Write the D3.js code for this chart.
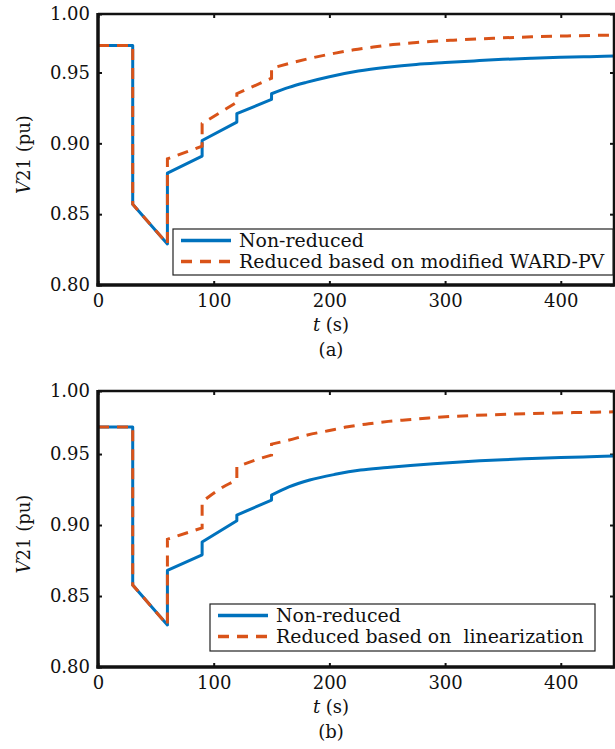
<!DOCTYPE html>
<html>
<head>
<meta charset="utf-8">
<script src="https://cdn.jsdelivr.net/npm/d3@7"></script>
<style>
  html, body { margin: 0; padding: 0; background: #fff; }
  svg { display: block; }
  svg text { font-family: "DejaVu Serif", "Liberation Serif", serif !important; fill: #111; white-space: pre; }
</style>
</head>
<body>
<svg id="chart" width="615" height="749"></svg>
<script>
// ---------- data ----------
const xTicks = [0, 100, 200, 300, 400];
const yTicks = [0.80, 0.85, 0.90, 0.95, 1.00];
const legendA = ["Non-reduced", "Reduced based on modified WARD-PV"];
const legendB = ["Non-reduced", "Reduced based on  linearization"];
const panelLabels = ["(a)", "(b)"];

// panel (a): time (s), voltage (pu)
const nonReducedA = [
  [0,0.969],[30,0.969],[30,0.857],[60,0.829],[60,0.879],[90,0.891],[90,0.902],
  [120,0.915],[120,0.921],[150,0.931],[150,0.935],[165,0.9395],[180,0.943],
  [200,0.947],[225,0.951],[250,0.9537],[275,0.9557],[300,0.957],[325,0.9582],
  [350,0.9593],[375,0.9601],[400,0.9607],[425,0.9612],[450,0.9617]
];
const reducedA = [
  [0,0.969],[30,0.969],[30,0.857],[60,0.829],[60,0.889],[90,0.898],[90,0.914],
  [120,0.929],[120,0.935],[150,0.946],[150,0.953],[168,0.957],[186,0.9605],
  [204,0.9635],[221,0.966],[238,0.968],[255,0.9697],[273,0.971],[290,0.972],
  [307,0.9728],[342,0.9742],[375,0.9752],[411,0.9759],[450,0.9765]
];
// panel (b)
const nonReducedB = [
  [0,0.969],[30,0.969],[30,0.8577],[60,0.8296],[60,0.868],[90,0.879],[90,0.888],
  [120,0.903],[120,0.907],[150,0.9176],[150,0.921],[165,0.9268],[183,0.9317],
  [205,0.9357],[227,0.9387],[250,0.9405],[270,0.942],[290,0.9432],[310,0.9442],
  [330,0.9452],[350,0.946],[375,0.9468],[400,0.9475],[425,0.9481],[450,0.9487]
];
const reducedB = [
  [0,0.969],[30,0.969],[30,0.8577],[60,0.8296],[60,0.890],[90,0.898],[90,0.9164],
  [110,0.9277],[120,0.9317],[120,0.941],[136,0.9458],[150,0.9493],[150,0.957],
  [164,0.9596],[181,0.9634],[199,0.9664],[216,0.9692],[234,0.9713],[251,0.973],
  [268,0.9742],[286,0.9754],[304,0.9764],[339,0.9776],[375,0.9785],[411,0.9792],
  [450,0.9798]
];

// ---------- drawing ----------
const BLUE = "#0072BD", ORANGE = "#D95319";
const svg = d3.select("#chart");
const FS = 18, LFS = 18.9;

// smooth within continuous pieces, sharp vertical steps where time repeats
function steppedPath(data, x, y) {
  const pieces = [];
  let cur = [data[0]];
  for (let i = 1; i < data.length; i++) {
    if (data[i][0] === data[i - 1][0]) { pieces.push(cur); cur = [data[i]]; }
    else cur.push(data[i]);
  }
  pieces.push(cur);
  const line = d3.line().curve(d3.curveMonotoneX).x(d => x(d[0])).y(d => y(d[1]));
  return pieces.map((p, i) => {
    const d = p.length > 1 ? line(p) : `M${x(p[0][0])},${y(p[0][1])}`;
    return i === 0 ? d : "L" + d.slice(1);
  }).join("");
}

function panel(cfg) {
  const x = d3.scaleLinear().domain([0, 446]).range([98, 614]);
  const y = d3.scaleLinear().domain(cfg.yDomain).range([cfg.bottom, cfg.top]).clamp(true);
  const g = svg.append("g");
  const clipId = "clip" + cfg.id;
  svg.append("defs").append("clipPath").attr("id", clipId)
    .append("rect").attr("x", x.range()[0]).attr("y", cfg.top)
    .attr("width", x.range()[1] - x.range()[0]).attr("height", cfg.bottom - cfg.top);

  const ax = g.append("g").attr("transform", `translate(0,${cfg.bottom})`)
    .call(d3.axisBottom(x).tickValues(xTicks).tickSize(-4).tickPadding(9).tickFormat(d3.format("d")));
  const ay = g.append("g").attr("transform", `translate(${x.range()[0]},0)`)
    .call(d3.axisLeft(y).tickValues(yTicks).tickSize(-4).tickPadding(8).tickFormat(d3.format(".2f")));
  const at = g.append("g").attr("transform", `translate(0,${cfg.top})`)
    .call(d3.axisTop(x).tickValues(xTicks).tickSize(-4).tickFormat(""));
  const ar = g.append("g").attr("transform", `translate(${x.range()[1]},0)`)
    .call(d3.axisRight(y).tickValues(yTicks).tickSize(-4).tickFormat(""));
  [ax, ay, at, ar].forEach(a => {
    a.attr("font-family", null);
    a.select(".domain").remove();
    a.selectAll(".tick line").attr("stroke", "#111").attr("stroke-width", 2);
    a.selectAll("text").attr("font-size", FS).attr("fill", "#111");
  });

  const lg = g.append("g").attr("clip-path", `url(#${clipId})`);
  lg.append("path").attr("d", steppedPath(cfg.blue, x, y)).attr("fill", "none")
    .attr("stroke", BLUE).attr("stroke-width", 3).attr("stroke-linejoin", "round");
  lg.append("path").attr("d", steppedPath(cfg.red, x, y)).attr("fill", "none")
    .attr("stroke", ORANGE).attr("stroke-width", 3).attr("stroke-dasharray", "11,8");

  const x0 = x.range()[0], x1 = x.range()[1];
  g.append("line").attr("x1", x0).attr("x2", x1 + 2).attr("y1", cfg.top).attr("y2", cfg.top)
    .attr("stroke", "#111").attr("stroke-width", 2.5);
  g.append("line").attr("x1", x1).attr("x2", x1).attr("y1", cfg.top).attr("y2", cfg.bottom)
    .attr("stroke", "#111").attr("stroke-width", 2.5);
  g.append("line").attr("x1", x0).attr("x2", x0).attr("y1", cfg.top - 1).attr("y2", cfg.bottom + 1.5)
    .attr("stroke", "#111").attr("stroke-width", 3.5);
  g.append("line").attr("x1", x0 - 1.5).attr("x2", x1 + 2).attr("y1", cfg.bottom).attr("y2", cfg.bottom)
    .attr("stroke", "#111").attr("stroke-width", 3.5);

  const L = cfg.legend;
  g.append("rect").attr("x", L.x).attr("y", L.y).attr("width", L.w).attr("height", L.h)
    .attr("fill", "#fff").attr("stroke", "#222").attr("stroke-width", 1.2);
  const rows = [L.y + 11.5, L.y + 32.5];
  g.append("line").attr("x1", L.x + 8).attr("x2", L.x + 58).attr("y1", rows[0]).attr("y2", rows[0])
    .attr("stroke", BLUE).attr("stroke-width", 3.5);
  g.append("line").attr("x1", L.x + 8).attr("x2", L.x + 58).attr("y1", rows[1]).attr("y2", rows[1])
    .attr("stroke", ORANGE).attr("stroke-width", 3.5).attr("stroke-dasharray", "11,8");
  L.labels.forEach((t, i) => {
    g.append("text").attr("x", L.x + 66).attr("y", rows[i]).attr("dy", "0.35em")
      .attr("font-size", LFS).text(t);
  });

  const yl = g.append("text")
    .attr("transform", `translate(30,${(cfg.top + cfg.bottom) / 2 + 5}) rotate(-90)`)
    .attr("text-anchor", "middle").attr("font-size", FS);
  yl.append("tspan").attr("font-style", "italic").text("V");
  yl.append("tspan").text("21 (pu)");

  const xl = g.append("text").attr("x", 331).attr("y", cfg.bottom + 40).attr("dy", "0.35em")
    .attr("text-anchor", "middle").attr("font-size", FS);
  xl.append("tspan").attr("font-style", "italic").text("t");
  xl.append("tspan").text(" (s)");

  g.append("text").attr("x", 331).attr("y", cfg.bottom + 65).attr("dy", "0.35em")
    .attr("text-anchor", "middle").attr("font-size", FS).text(cfg.label);
}

panel({
  id: "a", top: 14, bottom: 285, yDomain: [0.80, 0.9913],
  blue: nonReducedA, red: reducedA, label: panelLabels[0],
  legend: { x: 173, y: 229, w: 440, h: 46, labels: legendA }
});
panel({
  id: "b", top: 391, bottom: 667, yDomain: [0.80, 0.9944],
  blue: nonReducedB, red: reducedB, label: panelLabels[1],
  legend: { x: 210, y: 604, w: 385, h: 47, labels: legendB }
});
</script>
</body>
</html>
